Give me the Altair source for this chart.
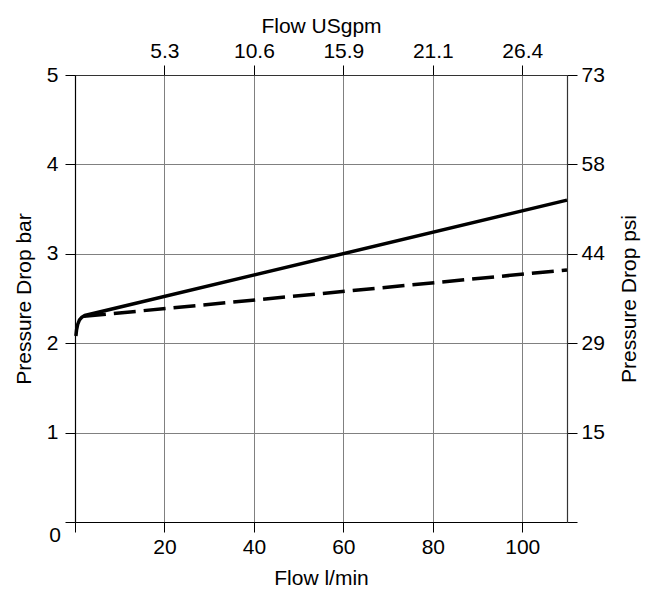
import altair as alt
import pandas as pd

# Data
flow_solid = [0.2, 0.35, 0.6, 1.0, 1.5, 2.2, 110]
dp_solid = [2.08, 2.15, 2.21, 2.26, 2.29, 2.31, 3.60]
flow_dash = [2.0, 110]
dp_dash = [2.30, 2.82]

x_ticks = [0, 20, 40, 60, 80, 100]
top_ticks = [20, 40, 60, 80, 100]
usgpm_labels = ["5.3", "10.6", "15.9", "21.1", "26.4"]
y_ticks = [0, 1, 2, 3, 4, 5]
right_ticks = [0, 1, 2, 3, 4, 5]
psi_labels = ["", "15", "29", "44", "58", "73"]

FONT = "Liberation Sans"
FS = 21


def map_expr(values, labels):
    expr = "''"
    for v, l in zip(reversed(values), reversed(labels)):
        expr = f"datum.value == {v} ? '{l}' : ({expr})"
    return expr


df_solid = pd.DataFrame({"flow": flow_solid, "dp": dp_solid})
df_dash = pd.DataFrame({"flow": flow_dash, "dp": dp_dash})
df_zero = pd.DataFrame({"t": ["0"]})

xs = alt.Scale(domain=[0, 110], nice=False, zero=True)
ys = alt.Scale(domain=[0, 5], nice=False, zero=True)

common_axis = dict(
    labelFont=FONT, titleFont=FONT, labelFontSize=FS, titleFontSize=FS,
    titleFontWeight="normal", labelColor="black", titleColor="black",
    tickColor="black", tickSize=10, tickWidth=1,
)

bottom_axis = alt.Axis(
    orient="bottom", values=x_ticks, title="Flow l/min",
    labelExpr="datum.value == 0 ? '' : datum.label",
    grid=True, gridColor="#808080", gridWidth=1,
    domainColor="black", domainWidth=1.2,
    labelPadding=4, titlePadding=10, **common_axis,
)
left_axis = alt.Axis(
    orient="left", values=y_ticks, title="Pressure Drop bar",
    labelExpr="datum.value == 0 ? '' : datum.label",
    grid=True, gridColor="#808080", gridWidth=1,
    domainColor="black", domainWidth=1.2,
    labelPadding=7, titlePadding=12, **common_axis,
)
top_axis = alt.Axis(
    orient="top", values=top_ticks, title="Flow USgpm",
    labelExpr=map_expr(top_ticks, usgpm_labels),
    grid=False, domainColor="#333333", domainWidth=1.2,
    labelPadding=4, titlePadding=4, **common_axis,
)
right_axis = alt.Axis(
    orient="right", values=right_ticks, title="Pressure Drop psi",
    titleAngle=270, titleBaseline="top",
    labelExpr=map_expr(right_ticks, psi_labels),
    grid=False, domainColor="#333333", domainWidth=1.2,
    labelPadding=4, titlePadding=14, **common_axis,
)

solid = alt.Chart(df_solid).mark_line(
    color="black", strokeWidth=3.5
).encode(
    x=alt.X("flow:Q", scale=xs, axis=bottom_axis),
    y=alt.Y("dp:Q", scale=ys, axis=left_axis),
)

dashed = alt.Chart(df_dash).mark_line(
    color="black", strokeWidth=3.5, strokeDash=[22, 8]
).encode(
    x=alt.X("flow:Q", scale=xs, axis=None),
    y=alt.Y("dp:Q", scale=ys, axis=None),
)

ghost = alt.Chart(df_dash).mark_point(opacity=0).encode(
    x=alt.X("flow:Q", scale=xs, axis=top_axis),
    y=alt.Y("dp:Q", scale=ys, axis=right_axis),
)

zero_label = alt.Chart(df_zero).mark_text(
    font=FONT, fontSize=FS, color="black", align="center", baseline="middle"
).encode(
    x=alt.value(-20), y=alt.value(461), text="t:N"
)

chart = alt.layer(solid, dashed, ghost, zero_label).resolve_scale(
    x="shared", y="shared"
).resolve_axis(
    x="independent", y="independent"
).properties(
    width=492, height=447, autosize="none",
    padding={"left": 67, "top": 67, "right": 85, "bottom": 70},
).configure_view(stroke=None).configure(background="white")

chart.save("out.html", embed_options={"renderer": "svg", "actions": False})
